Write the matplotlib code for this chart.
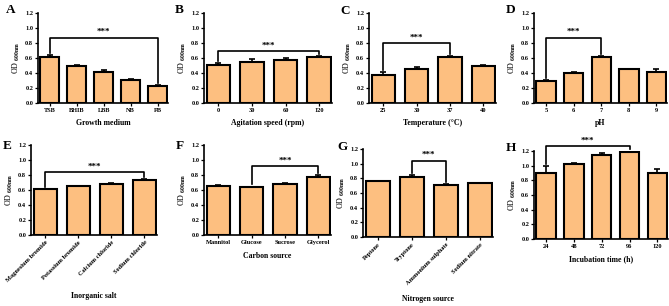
import numpy as np
import matplotlib
matplotlib.use("Agg")
import matplotlib.pyplot as plt

plt.rcParams['font.family'] = ['Liberation Serif', 'DejaVu Serif']
plt.rcParams['font.weight'] = 'bold'
plt.rcParams['mathtext.fontset'] = 'custom'
plt.rcParams['mathtext.rm'] = 'Liberation Serif:bold'
plt.rcParams['mathtext.bf'] = 'Liberation Serif:bold'

# panel data: categories, means, upper error
medium = ['TSB', 'BHIB', 'LBB', 'NB', 'PB']
medium_od = [0.62, 0.50, 0.41, 0.31, 0.23]
medium_err = [0.02, 0.01, 0.03, 0.005, 0.01]

agitation = ['0', '30', '60', '120']
agitation_od = [0.51, 0.55, 0.58, 0.62]
agitation_err = [0.02, 0.04, 0.02, 0.01]

temperature = ['25', '30', '37', '40']
temperature_od = [0.37, 0.45, 0.62, 0.50]
temperature_err = [0.04, 0.03, 0.01, 0.01]

ph = ['5', '6', '7', '8', '9']
ph_od = [0.30, 0.40, 0.62, 0.45, 0.41]
ph_err = [0.01, 0.02, 0.01, 0.005, 0.04]

salt = ['Magnesium bromide', 'Potassium bromide', 'Calcium chloride', 'Sodium chloride']
salt_od = [0.61, 0.65, 0.68, 0.73]
salt_err = [0.005, 0.005, 0.01, 0.02]

carbon = ['Mannitol', 'Glucose', 'Sucrose', 'Glycerol']
carbon_od = [0.66, 0.64, 0.68, 0.78]
carbon_err = [0.01, 0.005, 0.02, 0.02]

nitrogen = ['Peptone', 'Tryptone', 'Ammonium sulphate', 'Sodium nitrate']
nitrogen_od = [0.76, 0.82, 0.71, 0.73]
nitrogen_err = [0.01, 0.02, 0.01, 0.005]

incubation = ['24', '48', '72', '96', '120']
incubation_od = [0.90, 1.02, 1.15, 1.19, 0.90]
incubation_err = [0.09, 0.01, 0.02, 0.01, 0.05]

W, H = 669, 306
fig = plt.figure(figsize=(W / 100, H / 100), dpi=100)

BAR = '#FDBF80'


def panel(letter, pos, lpos, cats, vals, errs, xlabel, sig, rot=False, xlab_y=None):
    x0, x1, ytop, y0 = pos
    ax = fig.add_axes([x0 / W, 1 - y0 / H, (x1 - x0) / W, (y0 - ytop) / H])
    n = len(cats)
    xs = np.arange(n)
    ax.bar(xs, vals, width=0.7, color=BAR, edgecolor='black', linewidth=1.5, zorder=2)
    ax.errorbar(xs, vals, yerr=[np.zeros(n), errs], fmt='none', ecolor='black',
                elinewidth=1.2, capsize=2.5, capthick=1.2, zorder=3)
    ax.set_ylim(0, 1.2)
    ax.set_xlim(-0.43, n - 0.62)
    ax.set_yticks(np.arange(0, 1.21, 0.2))
    ax.set_yticklabels(['%.1f' % t for t in np.arange(0, 1.21, 0.2)])
    ax.set_xticks(xs)
    if rot:
        ax.set_xticklabels(cats, rotation=45, ha='right', rotation_mode='anchor')
    else:
        ax.set_xticklabels(cats)
    ax.tick_params(labelsize=4.6, length=2, width=0.9, pad=1.5)
    for s in ['top', 'right']:
        ax.spines[s].set_visible(False)
    for s in ['left', 'bottom']:
        ax.spines[s].set_linewidth(1.2)
    ax.set_ylabel(r'OD $_{\mathrm{600 nm}}$', fontsize=5.8, labelpad=2)
    if xlab_y is None:
        ax.set_xlabel(xlabel, fontsize=5.5, labelpad=6)
    else:
        fig.text((x0 + x1) / 2 / W, 1 - xlab_y / H, xlabel, fontsize=5.6,
                 ha='center', va='center')
    fig.text(lpos[0] / W, 1 - lpos[1] / H, letter, fontsize=9.5,
             fontweight='bold', ha='center', va='center')
    i, j, yb = sig
    li = vals[i] + errs[i] + 0.03
    lj = vals[j] + errs[j] + 0.03
    ax.plot([i, i, j, j], [li, yb, yb, lj], color='black', lw=1.2,
            clip_on=False, zorder=4)
    ax.text((i + j) / 2, yb + 0.02, '***', fontsize=6.5, ha='center', va='bottom')
    return ax


panel('A', (38, 168, 13, 103), (11, 10), medium, medium_od, medium_err,
      'Growth medium', (0, 4, 0.87), xlab_y=123)
panel('B', (204, 332, 13, 103), (179, 10), agitation, agitation_od, agitation_err,
      'Agitation speed (rpm)', (0, 3, 0.69), xlab_y=123)
panel('C', (369, 496, 13, 103), (345, 11), temperature, temperature_od, temperature_err,
      'Temperature (\u00b0C)', (0, 2, 0.80), xlab_y=123)
panel('D', (534, 667, 13, 103), (511, 10), ph, ph_od, ph_err,
      'pH', (0, 2, 0.87), xlab_y=123)
panel('E', (31, 157, 145, 235), (7, 146), salt, salt_od, salt_err,
      'Inorganic salt', (0, 3, 0.84), rot=True, xlab_y=296)
panel('F', (204, 331, 145, 235), (180, 146), carbon, carbon_od, carbon_err,
      'Carbon source', (1, 3, 0.92), xlab_y=256)
panel('G', (363, 493, 149, 237), (343, 147), nitrogen, nitrogen_od, nitrogen_err,
      'Nitrogen source', (1, 2, 1.04), rot=True, xlab_y=299)
panel('H', (534, 668, 151, 239), (511, 148), incubation, incubation_od, incubation_err,
      'Incubation time (h)', (0, 3, 1.27), xlab_y=259)

fig.savefig('out.png', dpi=100)
